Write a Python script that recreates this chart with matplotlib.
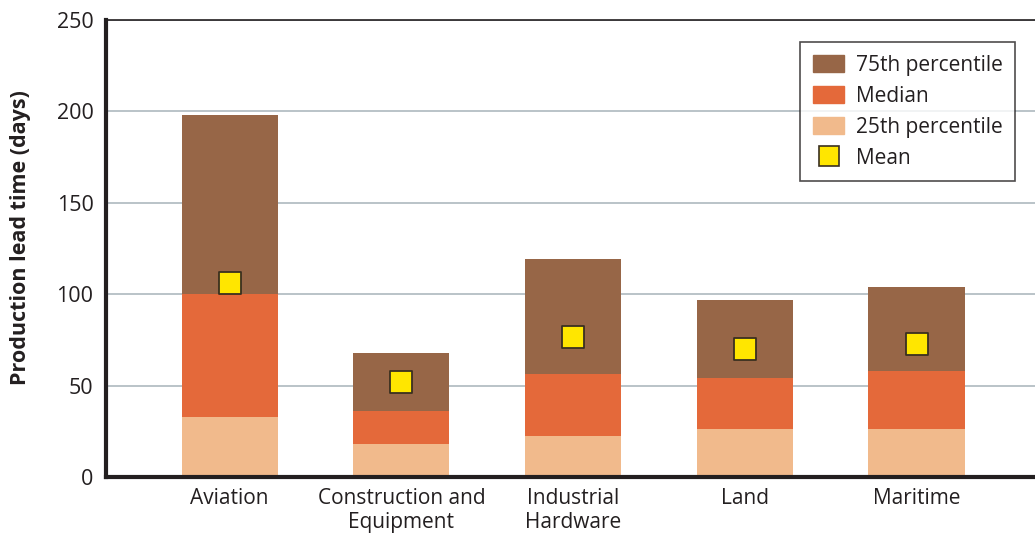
import matplotlib.pyplot as plt
from matplotlib.patches import Patch
from matplotlib.lines import Line2D
import numpy as np

plt.rcParams['font.family'] = ['Open Sans', 'DejaVu Sans']

categories = ["Aviation", "Construction and\nEquipment", "Industrial\nHardware", "Land", "Maritime"]
p25 = [33, 18, 22.5, 26, 26]
median = [100, 36, 56.5, 54, 58]
p75 = [198, 68, 119, 97, 104]
mean = [106, 52, 76.5, 70, 72.5]

c75 = "#976647"
cmed = "#e4693a"
c25 = "#f1ba8c"
cmean = "#ffe600"

fig = plt.figure(figsize=(10.35, 5.35), dpi=100)
ax = fig.add_axes([0.1024, 0.1084, 0.8976, 0.8542])

x = np.arange(len(categories))
width = 0.56

# stacked segments: each percentile drawn from the one below it
p25 = np.array(p25)
median = np.array(median)
p75 = np.array(p75)
ax.bar(x, p25, width, color=c25, zorder=2)
ax.bar(x, median - p25, width, bottom=p25, color=cmed, zorder=2)
ax.bar(x, p75 - median, width, bottom=median, color=c75, zorder=2)
ax.scatter(x, mean, marker="s", s=260, color=cmean, edgecolor="#3a3020",
           linewidth=1.3, zorder=3)

ax.set_xlim(-0.72, 4.69)
ax.set_ylim(0, 250)
ax.set_yticks([0, 50, 100, 150, 200, 250])
ax.set_xticks(x)
ax.set_xticklabels(categories, fontsize=15, color="#231f20", linespacing=1.2)
ax.tick_params(axis="y", labelsize=15.5, labelcolor="#231f20", length=0, pad=9)
ax.tick_params(axis="x", length=0, pad=8)
ax.yaxis.grid(True, color="#b4bec4", linewidth=1.3, zorder=0)
ax.set_axisbelow(True)

ax.set_ylabel("Production lead time (days)", fontsize=15.5, fontweight="bold",
              color="#231f20")
ax.yaxis.set_label_coords(-0.081, 0.525)

for side in ["left", "bottom"]:
    ax.spines[side].set_linewidth(3)
    ax.spines[side].set_color("#231f20")
ax.spines["top"].set_linewidth(1.2)
ax.spines["top"].set_color("#231f20")
ax.spines["right"].set_visible(False)

handles = [
    Patch(color=c75, label="75th percentile"),
    Patch(color=cmed, label="Median"),
    Patch(color=c25, label="25th percentile"),
    Line2D([], [], marker="s", linestyle="", markersize=14, markerfacecolor=cmean,
           markeredgecolor="#3a3020", markeredgewidth=1.2, label="Mean"),
]
leg = ax.legend(handles=handles, loc="upper right", bbox_to_anchor=(0.9785, 0.951),
                fontsize=15, frameon=True, fancybox=False, edgecolor="#231f20",
                handlelength=1.5, handleheight=0.9, labelspacing=0.48,
                borderpad=0.6, handletextpad=0.55, borderaxespad=0)
leg.get_frame().set_linewidth(1.2)
for t in leg.get_texts():
    t.set_color("#231f20")

fig.savefig("out.png", dpi=100)
